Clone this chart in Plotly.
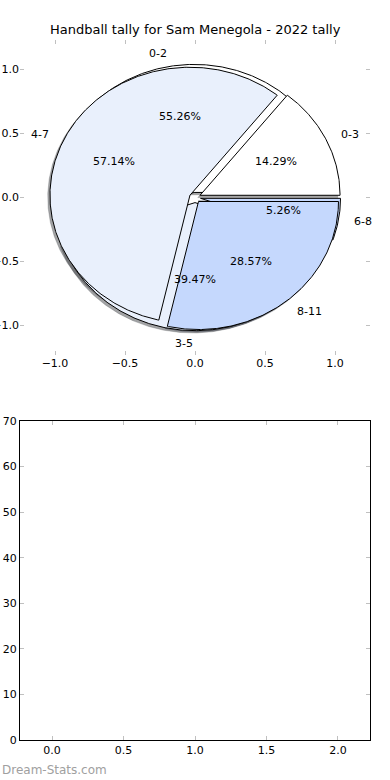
import numpy as np
import plotly.graph_objects as go

title_text = "Handball tally for Sam Menegola - 2022 tally"
watermark = "Dream-Stats.com"

# outer (top-drawn) pie
pie_a_labels = ["0-3", "4-7", "8-11"]
pie_a_values = [1, 4, 2]
# underlying pie
pie_b_labels = ["0-2", "3-5", "6-8"]
pie_b_values = [21, 15, 2]

wedge_colors = ["#ffffff", "#e9f0fc", "#c5d8fd"]
explode = 0.04
pie_ticks = [-1.0, -0.5, 0.0, 0.5, 1.0]
lower_xticks = [0.0, 0.5, 1.0, 1.5, 2.0]
lower_yticks = [0, 10, 20, 30, 40, 50, 60, 70]

FONT = "DejaVu Sans"
W, H = 390, 780


def wedge_geometry(values):
    total = float(sum(values))
    out = []
    start = 0.0
    for v in values:
        frac = v / total
        t1 = start
        t2 = start + 360.0 * frac
        mid = np.deg2rad((t1 + t2) / 2)
        cx = explode * np.cos(mid)
        cy = explode * np.sin(mid)
        out.append((t1, t2, cx, cy, mid, frac))
        start = t2
    return out


def wedge_poly(t1, t2, cx, cy, dx=0.0, dy=0.0):
    t = np.deg2rad(np.linspace(t1, t2, max(8, int((t2 - t1) * 2))))
    xs = np.concatenate([[cx], cx + np.cos(t), [cx]]) + dx
    ys = np.concatenate([[cy], cy + np.sin(t), [cy]]) + dy
    return xs, ys


geo_a = wedge_geometry(pie_a_values)
geo_b = wedge_geometry(pie_b_values)

fig = go.Figure()

# shadows (drawn beneath all wedges)
for geo in (geo_b, geo_a):
    for i, (t1, t2, cx, cy, mid, frac) in enumerate(geo):
        hexc = wedge_colors[i % len(wedge_colors)].lstrip("#")
        r, g, b = (int(hexc[k:k + 2], 16) for k in (0, 2, 4))
        sc = f"rgba({int(0.3 * r)},{int(0.3 * g)},{int(0.3 * b)},0.5)"
        xs, ys = wedge_poly(t1, t2, cx, cy, -0.016, -0.018)
        fig.add_trace(go.Scatter(x=xs, y=ys, mode="lines", fill="toself",
                                 fillcolor=sc, line=dict(color=sc, width=0.5),
                                 hoverinfo="skip", showlegend=False,
                                 xaxis="x", yaxis="y"))

# wedges: underlying pie first, then top pie
for geo in (geo_b, geo_a):
    for i, (t1, t2, cx, cy, mid, frac) in enumerate(geo):
        xs, ys = wedge_poly(t1, t2, cx, cy)
        fig.add_trace(go.Scatter(x=xs, y=ys, mode="lines", fill="toself",
                                 fillcolor=wedge_colors[i % len(wedge_colors)],
                                 line=dict(color="black", width=1),
                                 hoverinfo="skip", showlegend=False,
                                 xaxis="x", yaxis="y"))

annotations = []
for geo, labels in ((geo_a, pie_a_labels), (geo_b, pie_b_labels)):
    for (t1, t2, cx, cy, mid, frac), lab in zip(geo, labels):
        lx = cx + 1.1 * np.cos(mid)
        ly = cy + 1.1 * np.sin(mid)
        annotations.append(dict(x=lx, y=ly, xref="x", yref="y", text=lab,
                                showarrow=False,
                                xanchor="left" if lx > 0 else "right",
                                yanchor="middle",
                                font=dict(family=FONT, size=11, color="black")))
        px = cx + 0.6 * np.cos(mid)
        py = cy + 0.6 * np.sin(mid)
        annotations.append(dict(x=px, y=py, xref="x", yref="y",
                                text=f"{frac * 100:.2f}%", showarrow=False,
                                xanchor="center", yanchor="middle",
                                font=dict(family=FONT, size=11, color="black")))

annotations.append(dict(x=0.5, y=1 - 30 / H, xref="paper", yref="paper",
                        text=title_text, showarrow=False, xanchor="center",
                        yanchor="middle",
                        font=dict(family=FONT, size=13, color="black")))
annotations.append(dict(x=0.0, y=1 - 770 / H, xref="paper", yref="paper",
                        text=watermark, showarrow=False, xanchor="left",
                        yanchor="middle",
                        font=dict(family=FONT, size=12, color="#a0a0a0")))

tick_common = dict(showgrid=False, zeroline=False, ticks="inside", ticklen=4,
                   tickwidth=1, tickcolor="#c0c0c0", automargin=False,
                   tickfont=dict(family=FONT, size=11, color="black"))

fig.update_layout(
    width=W, height=H,
    margin=dict(l=0, r=0, t=0, b=0),
    paper_bgcolor="white", plot_bgcolor="white",
    template="none",
    showlegend=False,
    annotations=annotations,
    xaxis=dict(domain=[20 / W, 370 / W], range=[-1.25, 1.25], anchor="y",
               showline=False, mirror="ticks", tickvals=pie_ticks,
               tickformat=".1f", **tick_common),
    yaxis=dict(domain=[1 - 355 / H, 1 - 40 / H], range=[-1.23, 1.23],
               anchor="x", showline=False, mirror="ticks", tickvals=pie_ticks,
               tickformat=".1f", **tick_common),
    xaxis2=dict(domain=[20 / W, 370 / W], range=[-0.224, 2.224], anchor="y2",
                showline=True, linecolor="black", linewidth=1, mirror="ticks",
                tickvals=lower_xticks, tickformat=".1f", **tick_common),
    yaxis2=dict(domain=[1 - 740 / H, 1 - 421 / H], range=[0, 70], anchor="x2",
                showline=True, linecolor="black", linewidth=1, mirror="ticks",
                tickvals=lower_yticks, **tick_common),
)

# invisible trace to activate the lower axes
fig.add_trace(go.Scatter(x=[], y=[], xaxis="x2", yaxis="y2",
                         showlegend=False, hoverinfo="skip"))

fig.write_html("out.html",
               config={"displayModeBar": False},
               post_script="document.body.style.margin='0px';"
                           "document.body.style.overflow='hidden';")
